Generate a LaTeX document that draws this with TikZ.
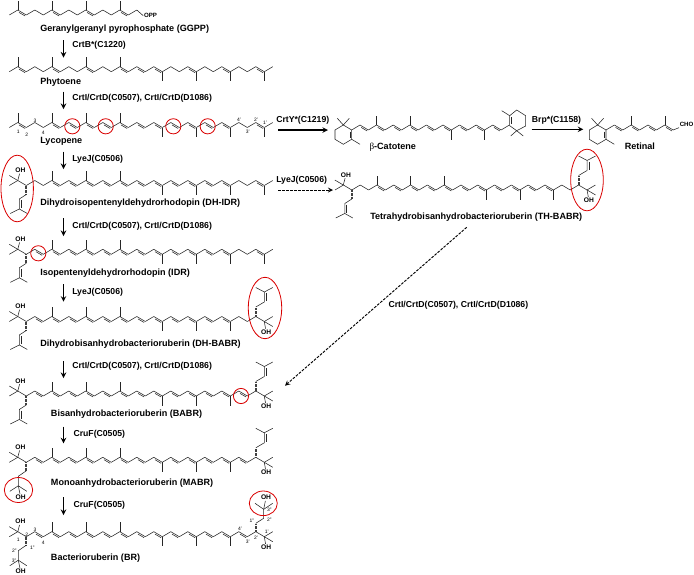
\documentclass[tikz,border=0pt]{standalone}
\usepackage{xcolor}
\usepackage{fontspec}
\setmainfont{Liberation Sans}
\newfontfamily\greekfont{Liberation Serif}
\usetikzlibrary{positioning,shapes,arrows,calc}

\tikzset{
    bond/.style={line width=0.42pt, black!85},
    hashbond/.style={line width=1.5pt, black!75, dash pattern=on 0.45pt off 0.55pt},
    rxnarrow/.style={-stealth, line width=0.85pt},
    rxndash/.style={-stealth, line width=0.7pt, dashed, dash pattern=on 2pt off 1pt},
    redring/.style={draw=red!85!black, line width=0.6pt},
    compound/.style={font=\bfseries\fontsize{6.8}{8}\selectfont, anchor=west, inner sep=0pt},
    enzyme/.style={font=\bfseries\fontsize{6.5}{8}\selectfont, anchor=west, inner sep=0pt},
    atomlabel/.style={font=\fontsize{5}{6}\selectfont\bfseries, inner sep=0.4pt},
    locant/.style={font=\fontsize{3.7}{4}\selectfont, inner sep=0pt}
}

% x0, y of low vertices, first bond, last bond, double bonds, methyls
\newcommand{\bondx}{8.5}
\newcommand{\carbonchain}[6]{
    \foreach \k in {#3,...,#4} {
        \pgfmathsetmacro{\xa}{#1+\bondx*\k}
        \pgfmathsetmacro{\ya}{#2-5*mod(\k,2)}
        \pgfmathsetmacro{\xb}{#1+\bondx*(\k+1)}
        \pgfmathsetmacro{\yb}{#2-5*mod(\k+1,2)}
        \draw[bond] (\xa,\ya) -- (\xb,\yb);
    }
    \foreach \k in {#5} {
        \pgfmathsetmacro{\xa}{#1+\bondx*\k}
        \pgfmathsetmacro{\ya}{#2-5*mod(\k,2)}
        \pgfmathsetmacro{\xb}{#1+\bondx*(\k+1)}
        \pgfmathsetmacro{\yb}{#2-5*mod(\k+1,2)}
        \draw[bond] ($(\xa,\ya)!0.14!(\xb,\yb)+(0,1.7)$) -- ($(\xa,\ya)!0.86!(\xb,\yb)+(0,1.7)$);
    }
    \foreach \k in {#6} {
        \pgfmathsetmacro{\xa}{#1+\bondx*\k}
        \pgfmathsetmacro{\ya}{#2-5*mod(\k,2)}
        \pgfmathsetmacro{\yb}{\ya-9.5*(2*mod(\k,2)-1)}
        \draw[bond] (\xa,\ya) -- (\xa,\yb);
    }
}

% name, x of carbon 2, y of low vertices
\newcommand{\leftcarbinol}[3]{
    \node[atomlabel] (#1oh) at (#2-5.9,#3-15) {OH};
    \draw[bond] (#2-8.5,#3-5) -- (#2-17,#3-10);
    \draw[bond] (#2-8.5,#3-5) -- (#1oh);
}
\newcommand{\leftprenyl}[3]{
    \leftcarbinol{#1}{#2}{#3}
    \draw[hashbond] (#2,#3) -- (#2,#3+8.8);
    \draw[bond] (#2,#3+9) -- (#2-7,#3+13.5) -- (#2-7,#3+23.5);
    \draw[bond] (#2-5.3,#3+14.5) -- (#2-5.3,#3+22.5);
    \draw[bond] (#2-16,#3+28) -- (#2-7,#3+23.5) -- (#2+1,#3+28);
}
\newcommand{\lefthydroxy}[3]{
    \leftcarbinol{#1}{#2}{#3}
    \node[atomlabel] (#1ohb) at (#2-5.6,#3+35) {OH};
    \draw[hashbond] (#2,#3) -- (#2,#3+8.3);
    \draw[bond] (#2,#3+8.5) -- (#2-8,#3+14) -- (#2-8,#3+23.5) -- (#1ohb);
    \draw[bond] (#2-16.5,#3+29) -- (#2-8,#3+23.5) -- (#2+0.5,#3+29);
}
% name, x of carbon 29, y of low vertices
\newcommand{\rightcarbinol}[3]{
    \node[atomlabel] (#1oh) at (#2+10.3,#3+10.3) {OH};
    \draw[bond] (#2+8.5,#3) -- (#2+17,#3+5);
    \draw[bond] (#2+8.5,#3) -- (#1oh);
}
\newcommand{\rightprenyl}[3]{
    \rightcarbinol{#1}{#2}{#3}
    \draw[hashbond] (#2,#3-5) -- (#2,#3-14);
    \draw[bond] (#2,#3-14.5) -- (#2+8.5,#3-19.5) -- (#2+8.5,#3-29.5);
    \draw[bond] (#2+10.2,#3-20.5) -- (#2+10.2,#3-28.5);
    \draw[bond] (#2,#3-34) -- (#2+8.5,#3-29.5) -- (#2+17,#3-34);
}
% x and y of ring carbon 6
\newcommand{\leftring}[2]{
    \draw[bond] (#1,#2) -- (#1-8.4,#2-5) -- (#1-16.7,#2) -- (#1-16.7,#2+9.3) -- (#1-8.4,#2+14.3) -- (#1,#2+9.3) -- cycle;
    \draw[bond] (#1-1.7,#2+1.6) -- (#1-1.7,#2+7.8);
    \draw[bond] (#1-14.4,#2-11.7) -- (#1-8.4,#2-5) -- (#1-2.4,#2-11.7);
    \draw[bond] (#1,#2+9.3) -- (#1+8.3,#2+14.3);
}

\begin{document}
\begin{tikzpicture}[x=0.75pt, y=-0.75pt]
    \useasboundingbox (0,0) rectangle (694,575);

    % geranylgeranyl pyrophosphate
    \carbonchain{9.3}{15}{0}{14}{1,5,9,13}{1,5,9,13}
    \node[atomlabel, font=\fontsize{4.6}{5}\selectfont\bfseries] (oppLabel) at (150.5,15.7) {OPP};
    \draw[bond] (136.8,10) -- (oppLabel.west);
    \node[compound] (ggppLabel) at (40,28.7) {Geranylgeranyl pyrophosphate (GGPP)};

    % phytoene
    \carbonchain{9.3}{71.7}{0}{30}{1,5,9,13,15,17,21,25,29}{1,5,9,13,18,22,26,30}
    \node[compound] (phytoeneLabel) at (40,81.7) {Phytoene};

    % lycopene
    \carbonchain{9.3}{127.5}{0}{30}{1,5,7,9,11,13,15,17,19,21,23,25,29}{1,5,9,13,18,22,26,30}
    \node[compound] (lycopeneLabel) at (40,141) {Lycopene};
    \foreach \nm/\lx/\ly/\txt in {la/18.3/131.7/1, lb/26.7/134.3/2, lc/35/120.7/3, ld/43.3/132.7/4, le/239/120/4', lf/247.7/132/3', lg/256/120/2', lh/265/122.7/1'} {
        \node[locant] (\nm) at (\lx,\ly) {\txt};
    }
    \foreach \lx in {72.3,105.7,173.3,207.7} {
        \draw[redring] (\lx,126.3) circle [radius=7.6];
    }

    % dihydroisopentenyldehydrorhodopin
    \carbonchain{9.3}{185.5}{0}{30}{5,7,...,25,29}{5,9,13,18,22,26,30}
    \leftprenyl{dhidr}{26.3}{185.5}
    \node[compound] (dhidrLabel) at (40,203.3) {Dihydroisopentenyldehydrorhodopin (DH-IDR)};
    \draw[redring] (17.2,188.5) ellipse [x radius=16.2, y radius=33.3];

    % isopentenyldehydrorhodopin
    \carbonchain{9.3}{254.3}{0}{30}{3,5,...,25,29}{5,9,13,18,22,26,30}
    \leftprenyl{idr}{26.3}{254.3}
    \node[compound] (idrLabel) at (40,272.7) {Isopentenyldehydrorhodopin (IDR)};
    \draw[redring] (38.3,253.3) circle [radius=7.6];

    % dihydrobisanhydrobacterioruberin
    \carbonchain{9.3}{321.5}{0}{30}{3,5,...,25}{5,9,13,18,22,26}
    \leftprenyl{dhbabrl}{26.3}{321.5}
    \rightprenyl{dhbabrr}{255.8}{321.5}
    \node[compound] (dhbabrLabel) at (40,344.3) {Dihydrobisanhydrobacterioruberin (DH-BABR)};
    \draw[redring] (265,308) ellipse [x radius=16.7, y radius=30.7];

    % bisanhydrobacterioruberin
    \carbonchain{9.3}{396}{0}{30}{3,5,...,27}{5,9,13,18,22,26}
    \leftprenyl{babrl}{26.3}{396}
    \rightprenyl{babrr}{255.8}{396}
    \node[compound] (babrLabel) at (50.7,414.3) {Bisanhydrobacterioruberin (BABR)};
    \draw[redring] (241,396) circle [radius=7.6];

    % monoanhydrobacterioruberin
    \carbonchain{9.3}{462.3}{0}{30}{3,5,...,27}{5,9,13,18,22,26}
    \lefthydroxy{mabrl}{26.3}{462.3}
    \rightprenyl{mabrr}{255.8}{462.3}
    \node[compound] (mabrLabel) at (50.7,483.3) {Monoanhydrobacterioruberin (MABR)};
    \draw[redring] (18.5,490) ellipse [x radius=14.2, y radius=12.5];

    % bacterioruberin
    \carbonchain{9.3}{536.7}{0}{30}{3,5,...,27}{5,9,13,18,22,26}
    \lefthydroxy{brl}{26.3}{536.7}
    \rightcarbinol{brr}{255.8}{536.7}
    \draw[hashbond] (255.8,531.7) -- (255.8,523.5);
    \node[atomlabel] (brtop) at (266,497.7) {OH};
    \draw[bond] (255.8,523.3) -- (263.7,518.3) -- (263.7,509.3) -- (brtop);
    \draw[bond] (255,503.3) -- (263.7,509.3) -- (272.7,503.3);
    \node[compound] (brLabel) at (50.7,558.3) {Bacterioruberin (BR)};
    \foreach \nm/\lx/\ly/\txt in {ba/18.3/540/1, bb/26.7/535/2, bc/35/530/3, bd/43.3/542.3/4, be/14.3/550.7/2'', bf/32.3/547.7/1'', bg/14/560.7/3'', bh/269.3/510/3'', bi/269.3/520/2'', bj/251.7/521/1'', bk/266.7/531.7/1', bl/256/537.3/2', bm/247.7/541.7/3', bn/240/529/4'} {
        \node[locant] (\nm) at (\lx,\ly) {\txt};
    }
    \draw[redring] (263.3,503.3) ellipse [x radius=14, y radius=12.3];

    % beta-carotene
    \renewcommand{\bondx}{8.3}
    \leftring{351.7}{130}
    \carbonchain{351.7}{130}{0}{18}{1,3,...,17}{3,7,12,16}
    \draw[bond] (509.7,125.7) -- (509.7,115.7) -- (516.7,110) -- (525.7,115.7) -- (525.7,126) -- (516.7,130.7) -- cycle;
    \draw[bond] (511.4,117.4) -- (511.4,124);
    \draw[bond] (509.7,115.7) -- (501.7,110.7);
    \draw[bond] (510.7,136) -- (516.7,130.7) -- (523.3,136);
    \node[compound] (caroteneLabel) at (369.3,147.7) {{\greekfont\mdseries β}-Catotene};

    % retinal
    \renewcommand{\bondx}{8.4}
    \leftring{606}{130}
    \carbonchain{606}{130}{0}{7}{1,3,5,7}{3,7}
    \node[atomlabel, anchor=west, font=\fontsize{4.6}{5}\selectfont\bfseries] (choLabel) at (679,124.7) {CHO};
    \draw[bond] (673.2,130) -- (choLabel.south west);
    \node[compound] (retinalLabel) at (624.5,146) {Retinal};

    % tetrahydrobisanhydrobacterioruberin
    \carbonchain{335}{190}{0}{30}{5,7,...,25}{5,9,13,18,22,26}
    \leftprenyl{thbabrl}{351.8}{190}
    \rightprenyl{thbabrr}{578.6}{190}
    \node[compound] (thbabrLabel) at (370,216.7) {Tetrahydrobisanhydrobacterioruberin (TH-BABR)};
    \draw[redring] (587,180) ellipse [x radius=16.3, y radius=30.8];

    % reaction arrows
    \foreach \nm/\ya/\yb in {ra/40/57.5, rb/91.7/109, rc/151.7/169, rd/218.3/236, re/284.3/301.7, rf/361/378, rg/426.7/443.3, rh/497.3/515} {
        \coordinate (\nm top) at (63.5,\ya);
        \coordinate (\nm end) at (63.5,\yb);
        \draw[rxnarrow] (\nm top) -- (\nm end);
    }
    \coordinate (cyclA) at (278,130);
    \coordinate (cyclB) at (328,130);
    \draw[rxnarrow] (cyclA) -- (cyclB);
    \coordinate (brpA) at (531.7,129.3);
    \coordinate (brpB) at (583.3,129.3);
    \draw[rxnarrow] (brpA) -- (brpB);
    \coordinate (lyeA) at (278,190);
    \coordinate (lyeB) at (333,190);
    \draw[rxndash] (lyeA) -- (lyeB);
    \coordinate (desatA) at (466.7,227.3);
    \coordinate (desatB) at (285,385.7);
    \draw[rxndash] (desatA) -- (desatB);

    % enzymes
    \node[enzyme] (crtb) at (72,45) {CrtB*(C1220)};
    \node[enzyme] (crti) at (72,98.3) {CrtI/CrtD(C0507), CrtI/CrtD(D1086)};
    \node[enzyme] (lyea) at (72,159.3) {LyeJ(C0506)};
    \node[enzyme] (crtj) at (72,226) {CrtI/CrtD(C0507), CrtI/CrtD(D1086)};
    \node[enzyme] (lyeb) at (72,292) {LyeJ(C0506)};
    \node[enzyme] (crtk) at (72,366) {CrtI/CrtD(C0507), CrtI/CrtD(D1086)};
    \node[enzyme] (crua) at (73.3,434) {CruF(C0505)};
    \node[enzyme] (crub) at (73.3,505) {CruF(C0505)};
    \node[enzyme] (crty) at (276,120.7) {CrtY*(C1219)};
    \node[enzyme] (brp) at (531.7,120.7) {Brp*(C1158)};
    \node[enzyme] (lyec) at (276,180) {LyeJ(C0506)};
    \node[enzyme] (crtl) at (388.3,305) {CrtI/CrtD(C0507), CrtI/CrtD(D1086)};
\end{tikzpicture}
\end{document}
